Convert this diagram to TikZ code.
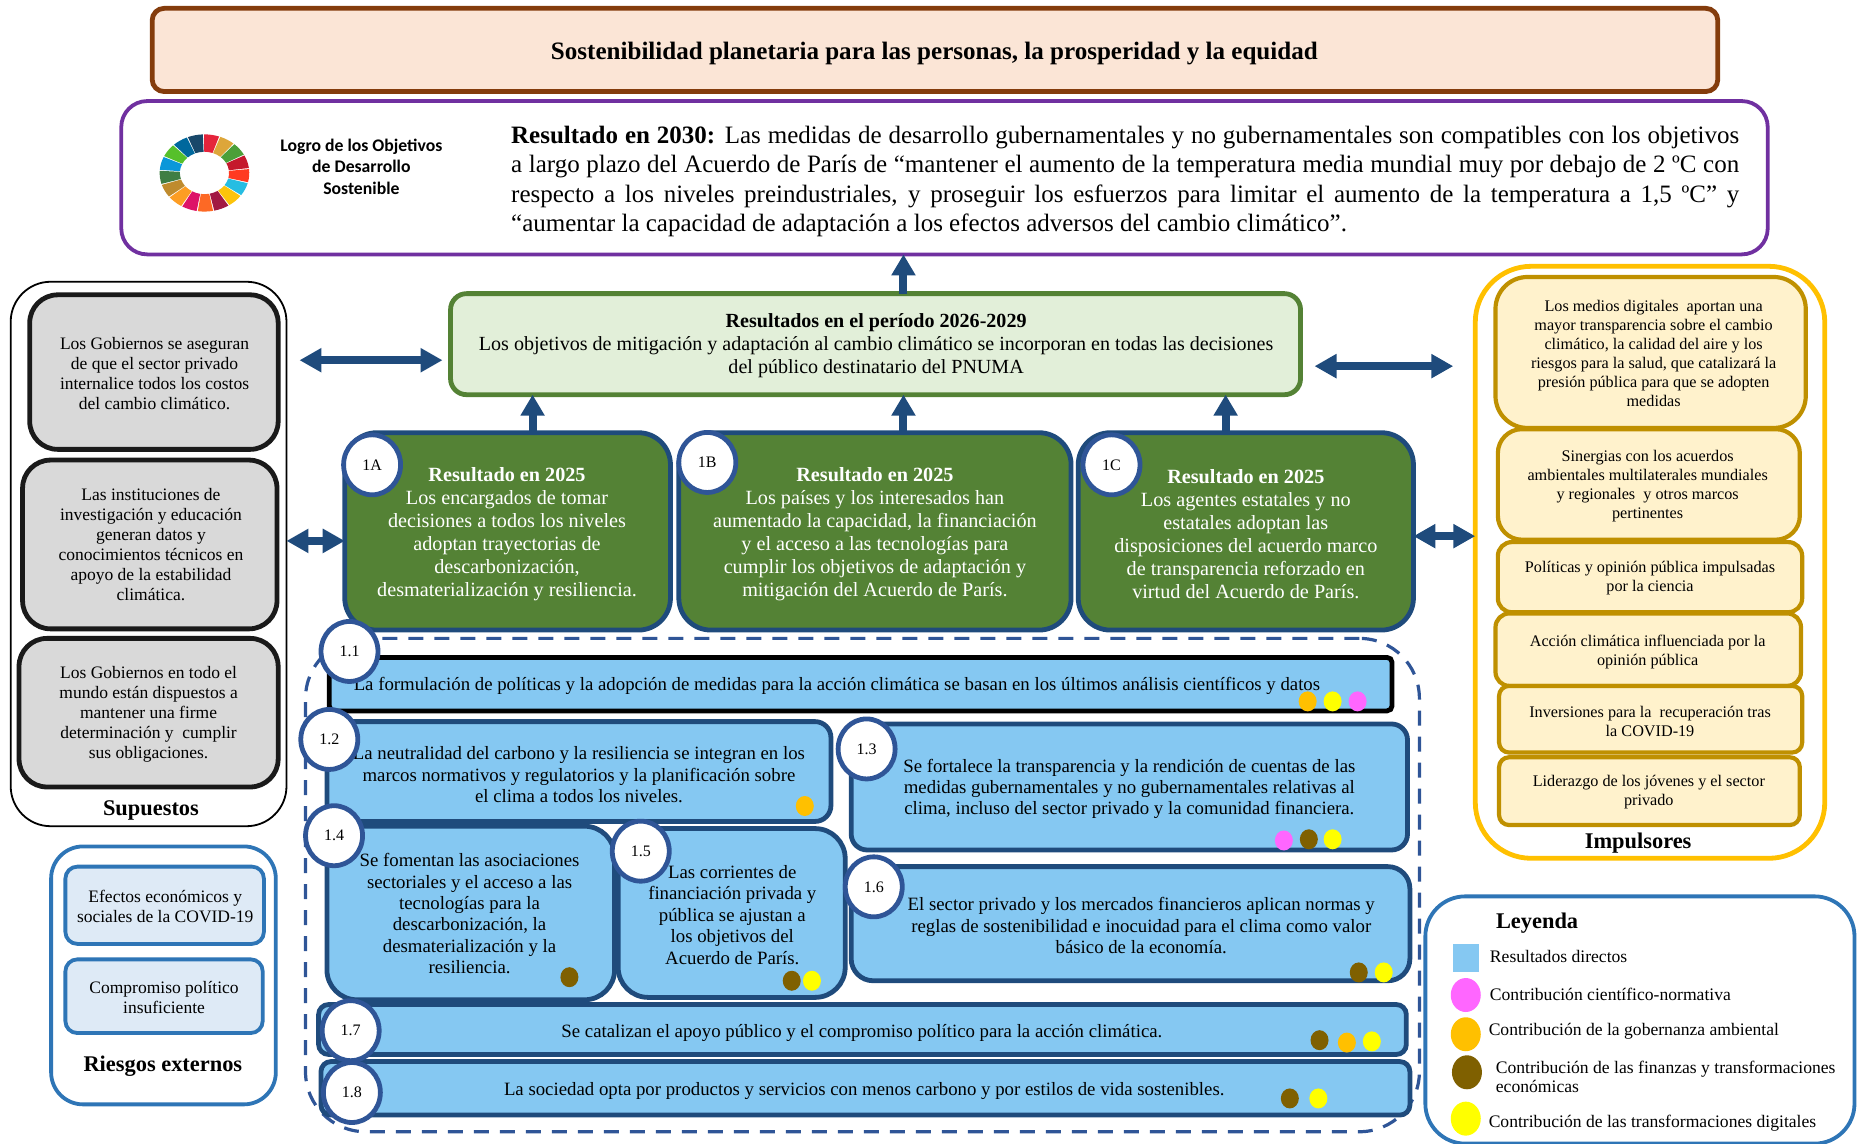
\documentclass[tikz,border=0pt]{standalone}
\usepackage{fontspec}
\setmainfont{Liberation Serif}
\newfontfamily\logofont{Carlito}
\usetikzlibrary{arrows.meta,shapes.geometric}
\definecolor{navy}{HTML}{1F4B7C}
\definecolor{ringblue}{HTML}{2F5597}
\definecolor{bluefill}{HTML}{85C8F2}
\definecolor{mg}{HTML}{FF66FF}
\definecolor{am}{HTML}{FFC000}
\definecolor{br}{HTML}{7F6000}
\definecolor{ye}{HTML}{FFFF00}
\definecolor{legblue}{HTML}{2E75B6}
\definecolor{sdg0}{HTML}{E5243B}\definecolor{sdg1}{HTML}{DDA63A}\definecolor{sdg2}{HTML}{4C9F38}
\definecolor{sdg3}{HTML}{C5192D}\definecolor{sdg4}{HTML}{FF3A21}\definecolor{sdg5}{HTML}{26BDE2}
\definecolor{sdg6}{HTML}{FCC30B}\definecolor{sdg7}{HTML}{A21942}\definecolor{sdg8}{HTML}{FD6925}
\definecolor{sdg9}{HTML}{DD1367}\definecolor{sdg10}{HTML}{FD9D24}\definecolor{sdg11}{HTML}{BF8B2E}
\definecolor{sdg12}{HTML}{3F7E44}\definecolor{sdg13}{HTML}{0A97D9}\definecolor{sdg14}{HTML}{56C02B}
\definecolor{sdg15}{HTML}{00689D}\definecolor{sdg16}{HTML}{19486A}
\newcommand{\fz}[2]{\fontsize{#1pt}{#2pt}\selectfont}
\def\uu{0.5944}
\newcommand{\bx}[6]{%
  \pgfmathsetmacro\bxw{(#5-#3)*\uu}\pgfmathsetmacro\bxh{(#6-#4)*\uu}%
  \node[#2,minimum width=\bxw pt,minimum height=\bxh pt,inner sep=0pt,outer sep=0pt] (#1) at ({(#3+#5)/2},{(#4+#6)/2}) {};}
\newcommand{\tx}[5]{\node[align=center,inner sep=0pt,#4] (#1) at (#2,{#3+1.6}) {#5};}
\newcommand{\cc}[4]{\node[numring] (#1) at (#2,#3) {#4};}
\newcommand{\dt}[5][dotn]{\node[#1,fill=#3] (#2) at (#4,#5) {};}
\tikzset{
  topbox/.style={draw={rgb,255:red,132;green,60;blue,12},line width=2.4pt,fill={rgb,255:red,251;green,229;blue,214},rounded corners=6pt},
  purplebox/.style={draw={rgb,255:red,112;green,48;blue,160},line width=1.9pt,fill=white,rounded corners=13pt},
  resbox/.style={draw={rgb,255:red,84;green,130;blue,53},line width=2.4pt,fill={rgb,255:red,226;green,239;blue,217},rounded corners=8pt},
  supouter/.style={draw=black,line width=.9pt,fill=white,rounded corners=20pt},
  graybox/.style={draw={rgb,255:red,26;green,26;blue,26},line width=2.4pt,fill={rgb,255:red,217;green,217;blue,217},rounded corners=14pt},
  riskouter/.style={draw=legblue,line width=1.9pt,fill=white,rounded corners=16pt},
  riskbox/.style={draw=legblue,line width=1.9pt,fill={rgb,255:red,222;green,234;blue,246},rounded corners=6pt},
  impouter/.style={draw=am,line width=2.4pt,fill=white,rounded corners=28pt},
  impbox/.style={draw={rgb,255:red,191;green,144;blue,0},line width=2.1pt,fill={rgb,255:red,255;green,242;blue,204},rounded corners=#1},
  greenbox/.style={draw=navy,line width=2.4pt,fill={rgb,255:red,84;green,130;blue,53},rounded corners=16pt},
  bluebox/.style={draw=navy,line width=2.4pt,fill=bluefill,rounded corners=#1},
  blackbox/.style={draw=black,line width=2.4pt,fill=bluefill,rounded corners=2.5pt},
  dashbox/.style={draw=ringblue,line width=1.6pt,dash pattern=on 7.5pt off 5.5pt,rounded corners=30pt},
  legbox/.style={draw=legblue,line width=1.9pt,fill=white,rounded corners=20pt},
  numring/.style={ellipse,draw=ringblue,line width=2.4pt,fill=white,minimum width=28.5pt,minimum height=30pt,inner sep=0pt,font=\fz{8}{9}},
  dotn/.style={ellipse,draw=none,minimum width=9pt,minimum height=10pt,inner sep=0pt},
  dotl/.style={ellipse,draw=none,minimum width=15pt,minimum height=17pt,inner sep=0pt},
  upar/.style={draw=navy,line width=4pt,-{Triangle[length=10.5pt,width=11.5pt]}},
  dblar/.style={draw=navy,line width=4pt,{Triangle[length=11pt,width=11.5pt]}-{Triangle[length=11pt,width=11.5pt]}},
  tgray/.style={font=\fz{8.75}{10}},
  tyel/.style={font=\fz{8.1}{9.5}},
  tblue/.style={font=\fz{9.4}{10.7}},
  tgreen/.style={text=white,font=\fz{10.1}{11.5}},
  tlabel/.style={font=\fz{11.2}{12}\bfseries},
  tleg/.style={anchor=west,align=left,font=\fz{8.8}{9.6}},
}
\begin{document}
\begin{tikzpicture}[x=\uu pt,y=-\uu pt]
\useasboundingbox (0,0) rectangle (1568,961.5);
% top
\bx{top}{topbox}{128}{7}{1445}{77}
\tx{topt}{786}{43}{font=\fz{12.53}{14}\bfseries}{Sostenibilidad planetaria para las personas, la prosperidad y la equidad}
\bx{goal}{purplebox}{102}{85}{1487}{214}
% SDG wheel
\begin{scope}[shift={(172,145.5)}]
\foreach \i in {0,...,16}{
  \pgfmathsetmacro\aa{90.5-\i*21.176}\pgfmathsetmacro\ab{\aa-19.6}
  \fill[sdg\i] (\aa:22.4pt and 19.3pt) arc[start angle=\aa,end angle=\ab,x radius=22.4pt,y radius=19.3pt] -- (\ab:12.3pt and 10.6pt) arc[start angle=\ab,end angle=\aa,x radius=12.3pt,y radius=10.6pt] -- cycle;
}
\end{scope}
\tx{logot}{304}{138.5}{font=\fz{8.85}{10.8}\logofont\bfseries}{Logro de los Objetivos\\de Desarrollo\\Sostenible}
\tx{goalt}{946.5}{151}{align=left,font=\fz{12.5}{14.6}}{%
\hbox to 614pt{\bfseries Resultado en 2030: \mdseries Las medidas de desarrollo gubernamentales y no gubernamentales son compatibles con los objetivos}\\
\hbox to 614pt{a largo plazo del Acuerdo de París de “mantener el aumento de la temperatura media mundial muy por debajo de 2 ºC con}\\
\hbox to 614pt{respecto a los niveles preindustriales, y proseguir los esfuerzos para limitar el aumento de la temperatura a 1,5 ºC” y}\\
\hbox to 614pt{“aumentar la capacidad de adaptación a los efectos adversos del cambio climático”.\hfill}}
% period result
\bx{res}{resbox}{379}{247}{1094}{332}
\tx{rest}{737}{289}{font=\fz{10.03}{11.6}}{{\bfseries Resultados en el período 2026-2029}\\Los objetivos de mitigación y adaptación al cambio climático se incorporan en todas las decisiones\\del público destinatario del PNUMA}
% assumptions
\bx{sup}{supouter}{9}{237}{241}{695}
\bx{g1}{graybox}{25}{248}{234}{378}
\tx{g1t}{130}{313}{tgray}{Los Gobiernos se aseguran\\de que el sector privado\\internalice todos los costos\\del cambio climático.}
\bx{g2}{graybox}{19}{387}{233}{529}
\tx{g2t}{127}{456.5}{tgray}{Las instituciones de\\investigación y educación\\generan datos y\\conocimientos técnicos en\\apoyo de la estabilidad\\climática.}
\bx{g3}{graybox}{16}{537}{234}{662}
\tx{g3t}{125}{599}{tgray}{Los Gobiernos en todo el\\mundo están dispuestos a\\mantener una firme\\determinación y\ \ cumplir\\sus obligaciones.}
\tx{supl}{127}{680}{tlabel}{Supuestos}
% risks
\bx{risk}{riskouter}{43}{712}{232}{929}
\bx{r1}{riskbox}{55}{729}{222}{794}
\tx{r1t}{139}{761}{tgray}{Efectos económicos y\\sociales de la COVID-19}
\bx{r2}{riskbox}{55}{807}{221}{869}
\tx{r2t}{138}{837.5}{tgray}{Compromiso político\\insuficiente}
\tx{riskl}{137}{895}{tlabel}{Riesgos externos}
% drivers
\bx{imp}{impouter}{1241}{224}{1535}{722}
\bx{y1}{impbox=16pt}{1258}{233}{1519}{360}
\tx{y1t}{1391}{296}{tyel}{Los medios digitales\ \ aportan una\\mayor transparencia sobre el cambio\\climático, la calidad del aire y los\\riesgos para la salud, que catalizará la\\presión pública para que se adopten\\medidas}
\bx{y2}{impbox=12pt}{1260}{361}{1514}{454}
\tx{y2t}{1386}{407.5}{tyel}{Sinergias con los acuerdos\\ambientales multilaterales mundiales\\y regionales\ \ y otros marcos\\pertinentes}
\bx{y3}{impbox=7pt}{1260}{456}{1516}{515}
\tx{y3t}{1388}{485}{tyel}{Políticas y opinión pública impulsadas\\por la ciencia}
\bx{y4}{impbox=7pt}{1258}{516}{1515}{577}
\tx{y4t}{1386}{547}{tyel}{Acción climática influenciada por la\\opinión pública}
\bx{y5}{impbox=5pt}{1261}{577}{1516}{633}
\tx{y5t}{1388}{605}{tyel}{Inversiones para la\ \ recuperación tras\\la COVID-19}
\bx{y6}{impbox=5pt}{1261}{637}{1514}{694}
\tx{y6t}{1387}{665}{tyel}{Liderazgo de los jóvenes y el sector\\privado}
\tx{impl}{1378}{708}{tlabel}{Impulsores}
% 2025 results
\bx{ga}{greenbox}{290}{364}{564}{530}
\tx{gat}{426.5}{447.5}{tgreen}{{\bfseries Resultado en 2025}\\Los encargados de tomar\\decisiones a todos los niveles\\adoptan trayectorias de\\descarbonización,\\desmaterialización y resiliencia.}
\bx{gb}{greenbox}{571}{364}{901}{530}
\tx{gbt}{736}{448}{tgreen}{{\bfseries Resultado en 2025}\\Los países y los interesados han\\aumentado la capacidad, la financiación\\y el acceso a las tecnologías para\\cumplir los objetivos de adaptación y\\mitigación del Acuerdo de París.}
\bx{gc}{greenbox}{907}{364}{1189}{530}
\tx{gct}{1048}{447.5}{tgreen}{{\bfseries Resultado en 2025}\\Los agentes estatales y no\\estatales adoptan las\\disposiciones del acuerdo marco\\de transparencia reforzado en\\virtud del Acuerdo de París.}
\cc{na}{313}{391}{1A}
\cc{nb}{595}{389}{1B}
\cc{nc}{935}{391}{1C}
% dashed group
\bx{grp}{dashbox}{257}{537}{1194}{952}
\bx{b11}{blackbox}{277}{553}{1171}{598}
\tx{b11t}{704}{575}{tblue}{La formulación de políticas y la adopción de medidas para la acción climática se basan en los últimos análisis científicos y datos}
\bx{b12}{bluebox=8pt}{275}{607}{699}{691}
\tx{b12t}{487}{650}{tblue}{La neutralidad del carbono y la resiliencia se integran en los\\marcos normativos y regulatorios y la planificación sobre\\el clima a todos los niveles.}
\bx{b13}{bluebox=8pt}{716}{609}{1184}{715}
\tx{b13t}{950}{662}{tblue}{Se fortalece la transparencia y la rendición de cuentas de las\\medidas gubernamentales y no gubernamentales relativas al\\clima, incluso del sector privado y la comunidad financiera.}
\bx{b14}{bluebox=15pt}{275}{695}{517}{841}
\tx{b14t}{395}{767}{tblue}{Se fomentan las asociaciones\\sectoriales y el acceso a las\\tecnologías para la\\descarbonización, la\\desmaterialización y la\\resiliencia.}
\bx{b15}{bluebox=15pt}{520}{697}{711}{839}
\tx{b15t}{616}{768}{tblue}{Las corrientes de\\financiación privada y\\pública se ajustan a\\los objetivos del\\Acuerdo de París.}
\bx{b16}{bluebox=11pt}{716}{729}{1186}{825}
\tx{b16t}{960}{777}{tblue}{El sector privado y los mercados financieros aplican normas y\\reglas de sostenibilidad e inocuidad para el clima como valor\\básico de la economía.}
\bx{b17}{bluebox=5pt}{268}{845}{1183}{887}
\tx{b17t}{725}{867}{tblue}{Se catalizan el apoyo público y el compromiso político para la acción climática.}
\bx{b18}{bluebox=5pt}{270}{893}{1186}{938}
\tx{b18t}{727}{916}{tblue}{La sociedad opta por productos y servicios con menos carbono y por estilos de vida sostenibles.}
\cc{n11}{294}{548}{1.1}
\cc{n12}{277}{622}{1.2}
\cc{n13}{729}{630}{1.3}
\cc{n14}{281}{703}{1.4}
\cc{n15}{539}{716}{1.5}
\cc{n16}{735}{746}{1.6}
\cc{n17}{295}{867}{1.7}
\cc{n18}{296}{919}{1.8}
% dots
\dt{d1}{am}{1100}{590}\dt{d2}{ye}{1121}{590}\dt{d3}{mg}{1142}{590}
\dt{d4}{am}{677}{678}
\dt{d5}{mg}{1080}{707}\dt{d6}{br}{1101}{706}\dt{d7}{ye}{1121}{706}
\dt{d8}{br}{479}{822}
\dt{d9}{br}{666}{825}\dt{d10}{ye}{683}{825}
\dt{d11}{br}{1143}{818}\dt{d12}{ye}{1164}{818}
\dt{d13}{br}{1110}{875}\dt{d14}{am}{1133}{877}\dt{d15}{ye}{1154}{876}
\dt{d16}{br}{1085}{924}\dt{d17}{ye}{1109}{924}
% legend
\bx{leg}{legbox}{1199}{754}{1560}{962}
\tx{legl}{1293}{775}{tlabel}{Leyenda}
\bx{l1}{fill=bluefill}{1222}{794}{1244}{818}
\tx{l1t}{1253}{803}{tleg}{Resultados directos}
\dt[dotl]{l2}{mg}{1233}{837}
\tx{l2t}{1253}{835}{tleg}{Contribución científico-normativa}
\dt[dotl]{l3}{am}{1233}{870}
\tx{l3t}{1252}{866}{tleg}{Contribución de la gobernanza ambiental}
\dt[dotl]{l4}{br}{1234}{902}
\tx{l4t}{1258}{904}{tleg}{Contribución de las finanzas y transformaciones\\económicas}
\dt[dotl]{l5}{ye}{1233}{941}
\tx{l5t}{1252}{943}{tleg}{Contribución de las transformaciones digitales}
% arrows
\coordinate (xa) at (448,0);
\coordinate (xb) at (760,0);
\coordinate (xc) at (1031,0);
\coordinate (ya) at (0,303);
\coordinate (yb) at (0,455);
\coordinate (yc) at (0,308);
\coordinate (yd) at (0,451);
\draw[upar] (xa |- ga.north) -- (xa |- res.south);
\draw[upar] (xb |- gb.north) -- (xb |- res.south);
\draw[upar] (xc |- gc.north) -- (xc |- res.south);
\draw[upar] (xb |- res.north) -- (xb |- goal.south);
\draw[dblar,shorten <=6.5pt,shorten >=4pt] (sup.east |- ya) -- (res.west |- ya);
\draw[dblar] (sup.east |- yb) -- (ga.west |- yb);
\draw[dblar,shorten <=7pt,shorten >=11pt] (res.east |- yc) -- (imp.west |- yc);
\draw[dblar] (gc.east |- yd) -- (imp.west |- yd);
\end{tikzpicture}
\end{document}
